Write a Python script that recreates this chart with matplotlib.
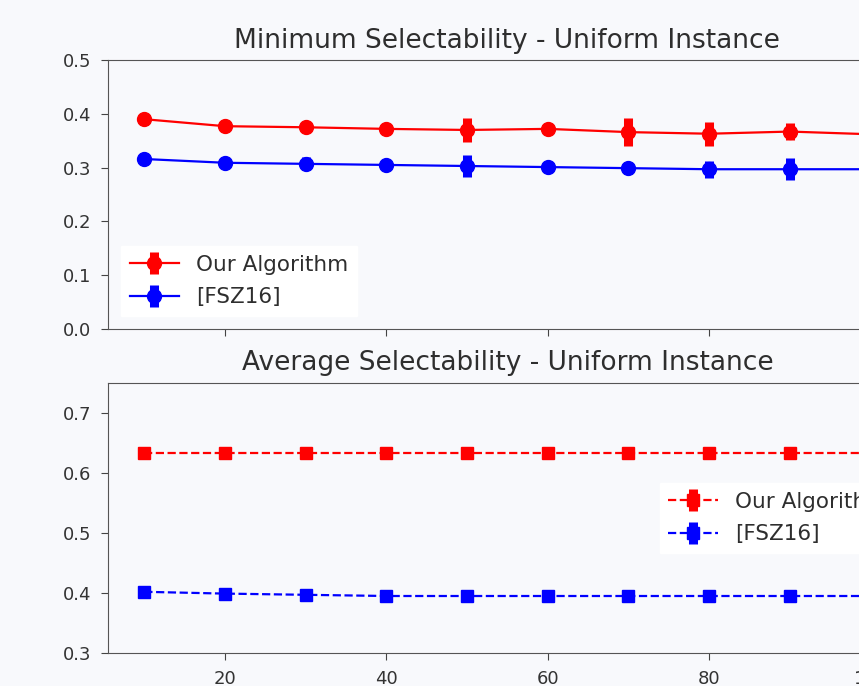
import numpy as np
import matplotlib
matplotlib.use('Agg')
from matplotlib import pyplot as plt

# x values: number of agents / instance size
sizes = [10, 20, 30, 40, 50, 60, 70, 80, 90, 100]

# minimum selectability
min_ours = [0.390, 0.377, 0.375, 0.372, 0.370, 0.372, 0.366, 0.363, 0.367, 0.362]
min_ours_err = [0.010, 0.008, 0.008, 0.008, 0.022, 0.010, 0.026, 0.022, 0.016, 0.010]
min_fsz = [0.316, 0.309, 0.307, 0.305, 0.303, 0.301, 0.299, 0.297, 0.297, 0.297]
min_fsz_err = [0.008, 0.006, 0.012, 0.010, 0.020, 0.010, 0.010, 0.016, 0.020, 0.010]

# average selectability
avg_ours = [0.633, 0.633, 0.633, 0.633, 0.633, 0.633, 0.633, 0.633, 0.633, 0.633]
avg_ours_err = [0.003] * 10
avg_fsz = [0.402, 0.399, 0.397, 0.395, 0.395, 0.395, 0.395, 0.395, 0.395, 0.395]
avg_fsz_err = [0.003] * 10

labels = ['Our Algorithm', '[FSZ16]']

bg = '#f8f9fc'
plt.rcParams['font.family'] = ['DejaVu Sans']
plt.rcParams['text.color'] = '#2e2e2e'
plt.rcParams['xtick.color'] = '#444444'
plt.rcParams['xtick.labelcolor'] = '#333333'
plt.rcParams['ytick.color'] = '#444444'
plt.rcParams['ytick.labelcolor'] = '#333333'
plt.rcParams['axes.edgecolor'] = '#555555'

fig = plt.figure(figsize=(8.59, 6.86), dpi=100, facecolor=bg)
ax1 = fig.add_axes([0.1257, 0.5204, 0.930, 0.3921], facecolor=bg)
ax2 = fig.add_axes([0.1257, 0.0481, 0.930, 0.3936], facecolor=bg, sharex=ax1)

ax1.errorbar(sizes, min_ours, yerr=min_ours_err, color='r', marker='o',
             markersize=10, lw=1.6, elinewidth=6.5, label=labels[0])
ax1.errorbar(sizes, min_fsz, yerr=min_fsz_err, color='b', marker='o',
             markersize=10, lw=1.6, elinewidth=6.5, label=labels[1])
ax1.set_ylim(0, 0.5)
ax1.set_title('Minimum Selectability - Uniform Instance', fontsize=19, pad=9)
ax1.legend(loc='lower left', fontsize=15.5, facecolor='white', edgecolor='white',
           framealpha=1, fancybox=False, borderaxespad=0.6, labelspacing=0.6,
           handlelength=2.3)
ax1.tick_params(labelbottom=False)

ax2.errorbar(sizes, avg_ours, yerr=avg_ours_err, color='r', marker='s',
             markersize=9, lw=1.6, ls='--', elinewidth=6.5, label=labels[0])
ax2.errorbar(sizes, avg_fsz, yerr=avg_fsz_err, color='b', marker='s',
             markersize=9, lw=1.6, ls='--', elinewidth=6.5, label=labels[1])
ax2.set_ylim(0.3, 0.75)
ax2.set_xticks([20, 40, 60, 80, 100])
ax2.set_title('Average Selectability - Uniform Instance', fontsize=19, pad=9)
ax2.legend(loc='center right', fontsize=15.5, facecolor='white', edgecolor='white',
           framealpha=1, fancybox=False, labelspacing=0.6, handlelength=2.3)

for ax in (ax1, ax2):
    ax.tick_params(labelsize=13, length=5, pad=7)
    ax.set_xlim(5.5, 104.5)

plt.savefig('out.png', dpi=100, facecolor=bg)
